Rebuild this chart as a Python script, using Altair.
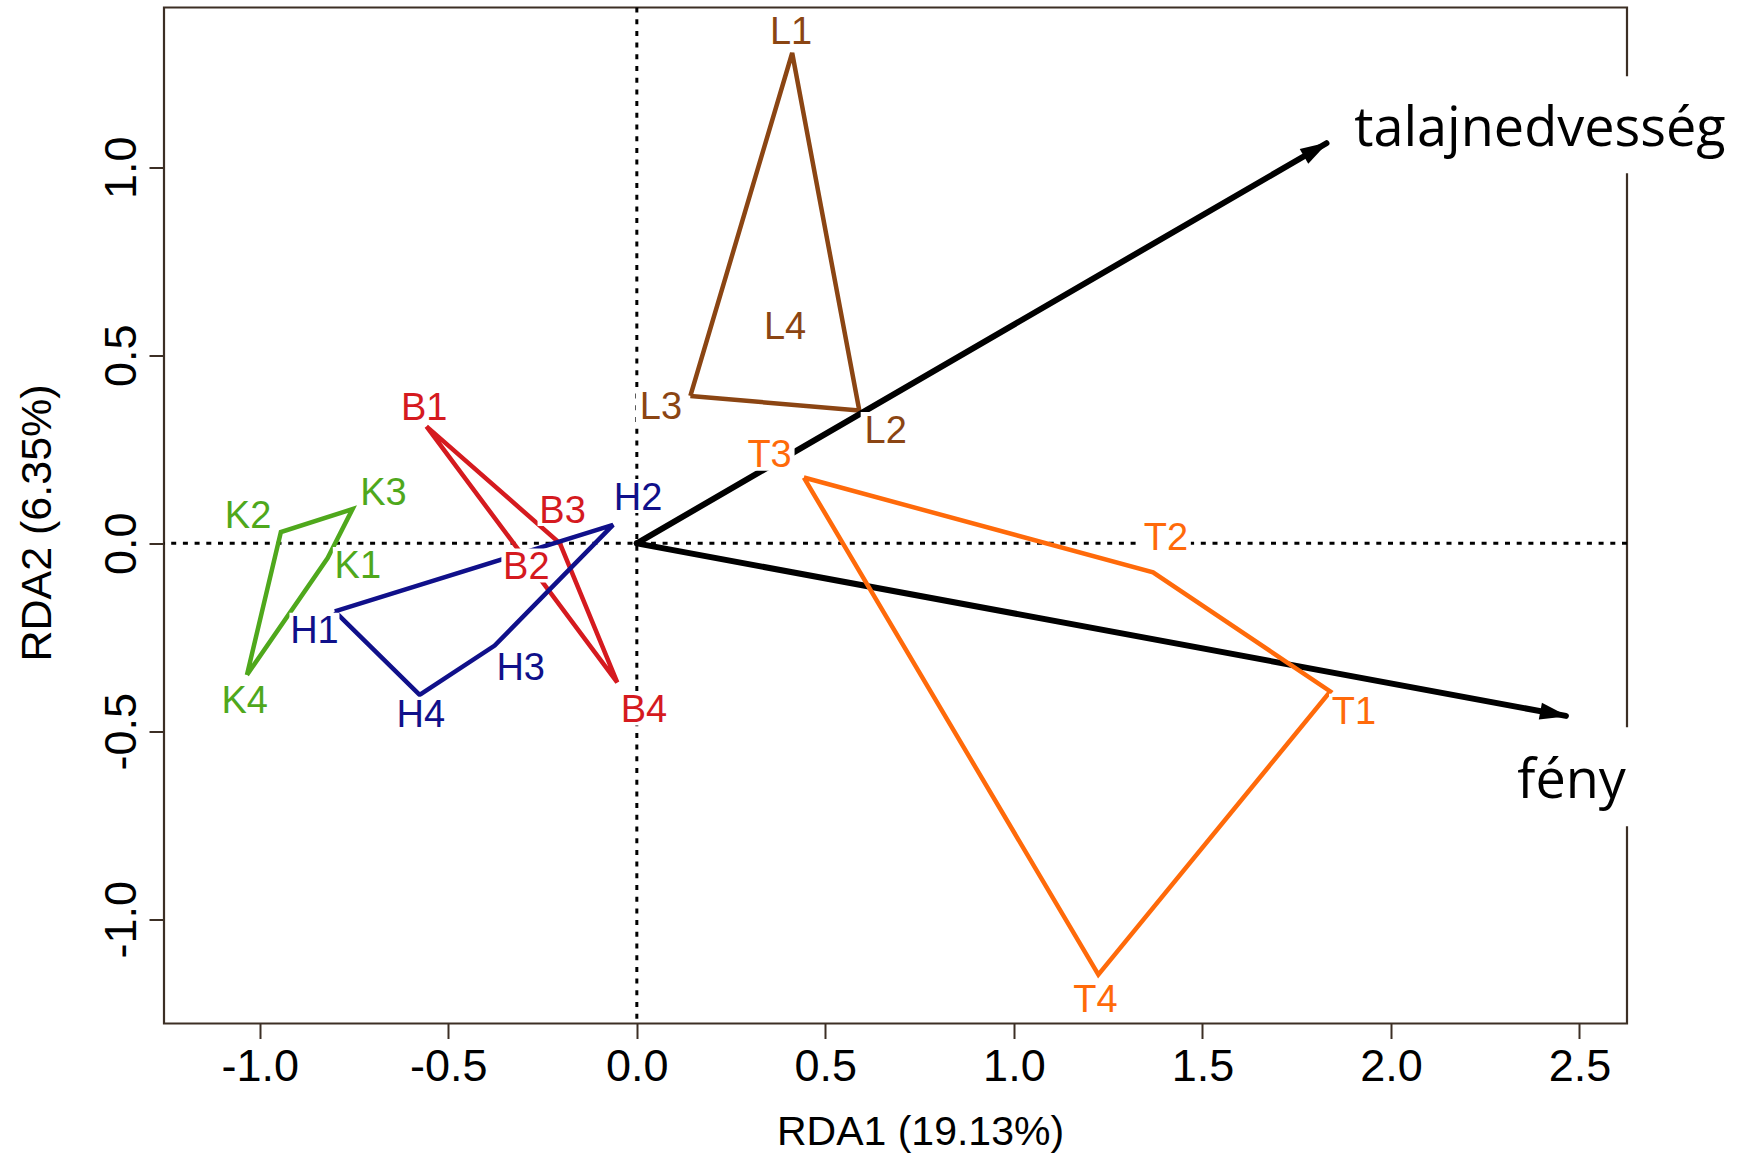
import math
import altair as alt
import pandas as pd

# ---- site scores (RDA1, RDA2); the first letter of a site is its habitat group
site_names = ["K1", "K2", "K3", "K4", "B1", "B2", "B3", "B4", "H1", "H2",
              "H3", "H4", "L1", "L2", "L3", "L4", "T1", "T2", "T3", "T4"]
site_rda1 = [-0.820, -0.944, -0.754, -1.034, -0.558, -0.284, -0.204, -0.052, -0.801, -0.063,
             -0.377, -0.576, 0.412, 0.590, 0.142, 0.400, 1.839, 1.369, 0.443, 1.224]
site_rda2 = [-0.039, 0.030, 0.091, -0.350, 0.311, -0.057, 0.000, -0.370, -0.181, 0.049,
             -0.272, -0.403, 1.304, 0.353, 0.392, 0.600, -0.394, -0.077, 0.175, -1.147]

# ---- positions of the site labels
label_rda1 = [-0.740, -1.031, -0.672, -1.040, -0.564, -0.293, -0.197, 0.019, -0.855, 0.003,
              -0.308, -0.573, 0.409, 0.660, 0.064, 0.393, 1.902, 1.403, 0.352, 1.216]
label_rda2 = [-0.055, 0.076, 0.137, -0.414, 0.364, -0.059, 0.091, -0.439, -0.230, 0.126,
              -0.326, -0.453, 1.364, 0.304, 0.366, 0.579, -0.445, 0.019, 0.238, -1.211]

# ---- environmental vectors (biplot arrows) and their labels
env_names = ["talajnedvesség", "fény"]
env_rda1 = [1.829, 2.464]
env_rda2 = [1.064, -0.459]
env_label_rda1 = [2.395, 2.479]
env_label_rda2 = [1.113, -0.621]

group_order = ["K", "B", "H", "L", "T"]
group_colors = ["#4fa81c", "#d51a1f", "#10108a", "#8b4513", "#ff6a0a"]

# ---- axis ranges and tick values
x_domain = [-1.254, 2.626]
y_domain = [-1.277, 1.425]
x_ticks = [-1.0, -0.5, 0.0, 0.5, 1.0, 1.5, 2.0, 2.5]
y_ticks = [-1.0, -0.5, 0.0, 0.5, 1.0]

W, H = 1463, 1016
FRAME = "#3c2f25"
SANS = "Liberation Sans"


def convex_hull(points):
    """Monotone-chain convex hull of (x, y, name) tuples."""
    pts = sorted(points)
    if len(pts) <= 2:
        return pts

    def cross(o, a, b):
        return (a[0] - o[0]) * (b[1] - o[1]) - (a[1] - o[1]) * (b[0] - o[0])

    lower, upper = [], []
    for p in pts:
        while len(lower) >= 2 and cross(lower[-2], lower[-1], p) <= 0:
            lower.pop()
        lower.append(p)
    for p in reversed(pts):
        while len(upper) >= 2 and cross(upper[-2], upper[-1], p) <= 0:
            upper.pop()
        upper.append(p)
    return lower[:-1] + upper[:-1]


sites = pd.DataFrame({
    "site": site_names,
    "group": [n[0] for n in site_names],
    "rda1": site_rda1,
    "rda2": site_rda2,
    "lx": label_rda1,
    "ly": label_rda2,
})

hull_rows = []
for g in group_order:
    sub = sites[sites.group == g]
    hull = convex_hull(list(zip(sub.rda1, sub.rda2, sub.site)))
    hull = hull + hull[:1]
    for i, (hx, hy, name) in enumerate(hull):
        hull_rows.append({"group": g, "site": name, "rda1": hx, "rda2": hy, "idx": i})
hulls = pd.DataFrame(hull_rows)

# arrowhead rotation in screen space
px_x = W / (x_domain[1] - x_domain[0])
px_y = H / (y_domain[1] - y_domain[0])
env = pd.DataFrame({
    "name": env_names,
    "rda1": env_rda1,
    "rda2": env_rda2,
    "x0": [0.0] * len(env_names),
    "y0": [0.0] * len(env_names),
    "lx": env_label_rda1,
    "ly": env_label_rda2,
})
env["ang"] = [math.degrees(math.atan2(-b * px_y, a * px_x)) % 360 for a, b in zip(env_rda1, env_rda2)]

x_scale = alt.Scale(domain=x_domain, nice=False, zero=False)
y_scale = alt.Scale(domain=y_domain, nice=False, zero=False)
color = alt.Color("group:N", scale=alt.Scale(domain=group_order, range=group_colors), legend=None)

label_expr = "(datum.value < 0 ? '-' : '') + format(abs(datum.value), '.1f')"
x_axis = alt.Axis(
    values=x_ticks, labelExpr=label_expr, title="RDA1 (19.13%)",
    domain=False, grid=False, ticks=True, tickSize=15, tickWidth=2, tickColor=FRAME,
    labelFont=SANS, labelFontSize=45, labelColor="black", labelPadding=41.7,
    labelBaseline="alphabetic", labelAlign="center", labelFlush=False, labelOverlap=False,
    titleFont=SANS, titleFontSize=41, titleFontWeight="normal", titleColor="black",
    titleX=756, titleY=121, titleAlign="center", titleBaseline="alphabetic",
)
y_axis = alt.Axis(
    values=y_ticks, labelExpr=label_expr, title="RDA2 (6.35%)",
    domain=False, grid=False, ticks=True, tickSize=15, tickWidth=2, tickColor=FRAME,
    labelFont=SANS, labelFontSize=45, labelColor="black", labelPadding=13.3,
    labelAngle=270, labelBaseline="alphabetic", labelAlign="center",
    labelFlush=False, labelOverlap=False,
    titleFont=SANS, titleFontSize=43, titleFontWeight="normal", titleColor="black",
    titleAngle=270, titleX=-114, titleY=515, titleAlign="center", titleBaseline="alphabetic",
)


def X(field):
    return alt.X(field, type="quantitative", scale=x_scale, axis=x_axis)


def Y(field):
    return alt.Y(field, type="quantitative", scale=y_scale, axis=y_axis)


# plot frame (box around the plotting region)
frame = alt.Chart(pd.DataFrame({"k": [0]})).mark_rect(
    fillOpacity=0, stroke=FRAME, strokeWidth=2.2
).encode(x=alt.value(0), x2=alt.value(W), y=alt.value(0), y2=alt.value(H))

zero = pd.DataFrame({"zero": [0.0]})
h_zero = alt.Chart(zero).mark_rule(color="black", strokeWidth=3, strokeDash=[5, 6.7]).encode(y=Y("zero"))
v_zero = alt.Chart(zero).mark_rule(color="black", strokeWidth=3, strokeDash=[5, 6.7]).encode(x=X("zero"))

hull_enc = dict(x=X("rda1"), y=Y("rda2"), color=color, detail="group:N", order="idx:Q")
hulls_back = alt.Chart(hulls[hulls.group != "T"]).mark_line(strokeWidth=4.5).encode(**hull_enc)
hulls_front = alt.Chart(hulls[hulls.group == "T"]).mark_line(strokeWidth=4.5).encode(**hull_enc)

shafts = alt.Chart(env).mark_rule(color="black", strokeWidth=6, strokeCap="round").encode(
    x=X("x0"), y=Y("y0"), x2="rda1:Q", y2="rda2:Q"
)
heads = alt.Chart(env).mark_point(
    shape="M2,0L-26,-8.5L-26,8.5Z", size=4, filled=True, color="black", opacity=1, strokeWidth=0
).encode(x=X("rda1"), y=Y("rda2"), angle=alt.Angle("ang:Q", scale=None))

# white boxes behind the site labels
site_boxes = alt.Chart(sites).mark_rect(
    color="white", xOffset=-25, x2Offset=25, yOffset=-17, y2Offset=17
).encode(x=X("lx"), x2="lx:Q", y=Y("ly"), y2="ly:Q")
site_text = alt.Chart(sites).mark_text(
    font=SANS, fontSize=38, align="center", baseline="alphabetic", dy=13.6
).encode(x=X("lx"), y=Y("ly"), text="site:N", color=color)

env_layers = []
env_box_half = {"talajnedvesség": (205, 48.5), "fény": (70, 49.5)}
for nm in env_names:
    hw, hh = env_box_half[nm]
    row = env[env.name == nm]
    env_layers.append(alt.Chart(row).mark_rect(
        color="white", xOffset=-hw, x2Offset=hw, yOffset=-hh, y2Offset=hh
    ).encode(x=X("lx"), x2="lx:Q", y=Y("ly"), y2="ly:Q"))
env_text = alt.Chart(env).mark_text(
    font="Open Sans", fontSize=54, align="center", baseline="alphabetic", dy=21, color="black"
).encode(x=X("lx"), y=Y("ly"), text="name:N")

chart = alt.layer(
    frame, h_zero, v_zero, hulls_back, shafts, heads, hulls_front,
    site_boxes, site_text, *env_layers, env_text
).properties(
    width=W, height=H,
    autosize=alt.AutoSizeParams(type="none"),
    padding={"left": 164, "top": 7.5, "right": 117, "bottom": 132.5},
    background="white",
).configure_view(strokeWidth=0)

chart.save("out.html", embed_options={"renderer": "svg", "actions": False})
